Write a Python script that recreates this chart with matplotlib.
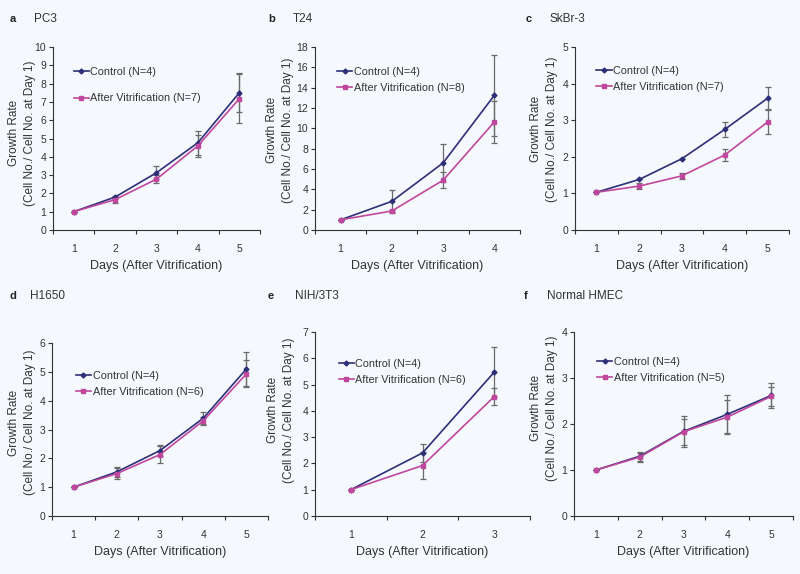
import matplotlib.pyplot as plt
import numpy as np

plt.rcParams['font.family'] = ['Liberation Sans', 'DejaVu Sans']

# panel a - PC3
pc3_days = [1, 2, 3, 4, 5]
pc3_ctrl = [1.0, 1.8, 3.13, 4.77, 7.5]
pc3_ctrl_err = [0.0, 0.08, 0.36, 0.66, 1.07]
pc3_vit = [1.0, 1.66, 2.78, 4.6, 7.17]
pc3_vit_err = [0.0, 0.17, 0.23, 0.6, 1.34]

# panel b - T24
t24_days = [1, 2, 3, 4]
t24_ctrl = [1.0, 2.82, 6.6, 13.25]
t24_ctrl_err = [0.0, 1.1, 1.85, 4.0]
t24_vit = [1.0, 1.87, 4.9, 10.63]
t24_vit_err = [0.0, 0.1, 0.8, 2.1]

# panel c - SkBr-3
skbr_days = [1, 2, 3, 4, 5]
skbr_ctrl = [1.03, 1.38, 1.95, 2.75, 3.6]
skbr_ctrl_err = [0.0, 0.0, 0.0, 0.2, 0.3]
skbr_vit = [1.03, 1.2, 1.48, 2.05, 2.95]
skbr_vit_err = [0.0, 0.08, 0.08, 0.16, 0.32]

# panel d - H1650
h1650_days = [1, 2, 3, 4, 5]
h1650_ctrl = [1.0, 1.53, 2.27, 3.39, 5.1]
h1650_ctrl_err = [0.0, 0.17, 0.18, 0.2, 0.58]
h1650_vit = [1.0, 1.47, 2.13, 3.3, 4.93]
h1650_vit_err = [0.0, 0.19, 0.29, 0.15, 0.47]

# panel e - NIH/3T3
nih_days = [1, 2, 3]
nih_ctrl = [1.0, 2.4, 5.47]
nih_ctrl_err = [0.0, 0.35, 0.95]
nih_vit = [1.0, 1.92, 4.54]
nih_vit_err = [0.0, 0.52, 0.33]

# panel f - Normal HMEC
hmec_days = [1, 2, 3, 4, 5]
hmec_ctrl = [1.0, 1.3, 1.84, 2.21, 2.62]
hmec_ctrl_err = [0.0, 0.1, 0.34, 0.41, 0.28]
hmec_vit = [1.0, 1.28, 1.83, 2.15, 2.6]
hmec_vit_err = [0.0, 0.1, 0.28, 0.37, 0.2]

letters = ['a', 'b', 'c', 'd', 'e', 'f']
titles = ['PC3', 'T24', 'SkBr-3', 'H1650', 'NIH/3T3', 'Normal HMEC']
vit_n = [7, 8, 7, 6, 6, 5]

bg = '#f5f8fc'
c_ctrl = '#2d2f78'
c_vit = '#c0479e'
c_err = '#6a6a6a'

W, H = 800, 574
fig = plt.figure(figsize=(W / 100, H / 100), dpi=100, facecolor=bg)

# left, right, top, bottom in pixels
boxes = [(53, 260, 47, 230), (315, 520, 47, 230), (575, 789, 47, 230),
         (52, 268, 343, 516), (315, 530, 332, 516), (574, 793, 332, 516)]
ylims = [10, 18, 5, 6, 7, 4]
ysteps = [1, 2, 1, 1, 1, 1]
ylab_off = [31, 35, 31, 30, 34, 30]
ylab_mid = [0.53, 0.545, 0.55, 0.54, 0.575, 0.585]
leg_pos = [(0.10, 0.89), (0.107, 0.89), (0.10, 0.896),
           (0.11, 0.84), (0.11, 0.853), (0.105, 0.864)]
leg_space = [1.5, 0.55, 0.55, 0.55, 0.55, 0.55]
title_px = [(10, 34, 19), (268, 293, 19), (526, 549, 19),
            (10, 30, 296), (268, 295, 296), (524, 547, 296)]

data = [
    (pc3_days, pc3_ctrl, pc3_ctrl_err, pc3_vit, pc3_vit_err),
    (t24_days, t24_ctrl, t24_ctrl_err, t24_vit, t24_vit_err),
    (skbr_days, skbr_ctrl, skbr_ctrl_err, skbr_vit, skbr_vit_err),
    (h1650_days, h1650_ctrl, h1650_ctrl_err, h1650_vit, h1650_vit_err),
    (nih_days, nih_ctrl, nih_ctrl_err, nih_vit, nih_vit_err),
    (hmec_days, hmec_ctrl, hmec_ctrl_err, hmec_vit, hmec_vit_err),
]

for i, (days, ctrl, ctrl_err, vit, vit_err) in enumerate(data):
    l, r, t, b = boxes[i]
    ax = fig.add_axes([l / W, 1 - b / H, (r - l) / W, (b - t) / H])
    ax.set_facecolor('none')

    ax.errorbar(days, ctrl, yerr=ctrl_err, fmt='none', ecolor=c_err,
                elinewidth=0.9, capsize=2.2, capthick=0.9, zorder=2)
    ax.errorbar(days, vit, yerr=vit_err, fmt='none', ecolor=c_err,
                elinewidth=0.9, capsize=2.2, capthick=0.9, zorder=2)
    ax.plot(days, ctrl, color=c_ctrl, lw=1.2, marker='D', ms=2.5,
            label='Control (N=4)', zorder=3)
    ax.plot(days, vit, color=c_vit, lw=1.2, marker='s', ms=2.5,
            label='After Vitrification (N=%d)' % vit_n[i], zorder=3)

    n = len(days)
    ax.set_xlim(0.5, n + 0.5)
    ax.set_xticks(np.arange(0.5, n + 1, 1))
    ax.set_xticklabels([])
    ax.set_xticks(days, minor=True)
    ax.set_xticklabels([str(d) for d in days], minor=True)
    ax.set_ylim(0, ylims[i])
    ax.set_yticks(np.arange(0, ylims[i] + 0.1, ysteps[i]))

    ax.tick_params(axis='both', which='major', direction='out', length=3,
                   width=0.8, color='#333333', labelsize=7.5, pad=2,
                   labelcolor='#333333')
    ax.tick_params(axis='x', which='minor', length=0, pad=10, labelsize=7.5,
                   labelcolor='#333333')
    for s in ['top', 'right']:
        ax.spines[s].set_visible(False)
    for s in ['left', 'bottom']:
        ax.spines[s].set_color('#333333')
        ax.spines[s].set_linewidth(0.8)

    ax.set_xlabel('Days (After Vitrification)', fontsize=9, color='#333333',
                  labelpad=4.5)
    ax.set_ylabel('Growth Rate\n(Cell No./ Cell No. at Day 1)', fontsize=8.5,
                  color='#333333', linespacing=1.55, va='center')
    ax.yaxis.set_label_coords(-ylab_off[i] / (r - l), ylab_mid[i])

    ax.legend(loc='upper left', bbox_to_anchor=leg_pos[i], frameon=False,
              fontsize=7.8, handlelength=1.4, handletextpad=0.15,
              borderpad=0, borderaxespad=0, labelspacing=leg_space[i],
              labelcolor='#333333')

    lx, tx, ty = title_px[i]
    fig.text(lx / W, 1 - ty / H, letters[i], fontsize=8, fontweight='bold',
             va='center', ha='left', color='#222222')
    fig.text(tx / W, 1 - ty / H, titles[i], fontsize=8.5, va='center',
             ha='left', color='#333333')

fig.savefig('out.png', dpi=100, facecolor=bg)
